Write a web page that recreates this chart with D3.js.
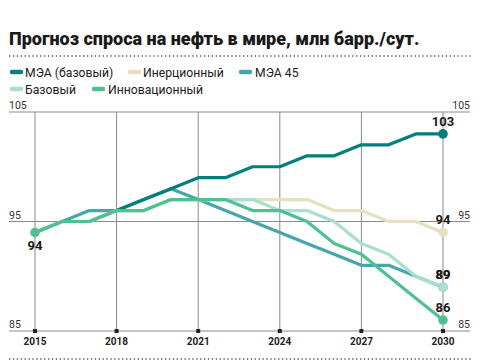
<!DOCTYPE html>
<html><head><meta charset="utf-8">
<script src="https://cdn.jsdelivr.net/npm/d3@7/dist/d3.min.js"></script>
<style>
html,body{margin:0;padding:0;background:#fff;}
svg{display:block;}
text{font-family:Roboto,"Noto Sans",sans-serif;}
</style></head>
<body>
<svg id="chart" width="500" height="362"></svg>
<script>
const title = "Прогноз спроса на нефть в мире, млн барр./сут.";
const years = [2015,2016,2017,2018,2019,2020,2021,2022,2023,2024,2025,2026,2027,2028,2029,2030];
const xTicks = [2015,2018,2021,2024,2027,2030];
const yTicks = [85,95,105];
// drawing order: bottom to top
const seriesNames = ["МЭА 45","МЭА (базовый)","Инерционный","Базовый","Инновационный"];
const seriesColors = ["#45a7ab","#007f7b","#e5e0c0","#a9dfcd","#4fc190"];
const iea45      = [94,95,96,96,97,98,97,96,95,94,93,92,91,91,90,89];
const ieaBase    = [94,95,95,96,97,98,99,99,100,100,101,101,102,102,103,103];
const inertial   = [94,95,95,96,96,97,97,97,97,97,97,96,96,95,95,94];
const base       = [94,95,95,96,96,97,97,97,97,96,96,95,93,92,90,89];
const innovative = [94,95,95,96,96,97,97,97,96,96,95,93,92,90,88,86];
const seriesValues = [iea45, ieaBase, inertial, base, innovative];
const legendOrder = ["МЭА (базовый)","Инерционный","МЭА 45","Базовый","Инновационный"];

const svg = d3.select("#chart");
const x = d3.scaleLinear().domain([2015,2030]).range([35,443]);
const y = d3.scaleLinear().domain([85,105]).range([331,112]);

// title
svg.append("text").attr("x",9).attr("y",45).text(title)
  .attr("font-size",18).attr("font-weight",900).attr("fill","#1a1a1a")
  .attr("font-family","Roboto, sans-serif");
// dotted separators
[56,359].forEach(yy=>{
  svg.append("line").attr("x1",9).attr("x2",471).attr("y1",yy).attr("y2",yy)
    .attr("stroke","#555").attr("stroke-width",1.3).attr("stroke-dasharray","1.3,2.6");
});

// legend
const legendPos = [[10,72],[128,72],[239,72],[10,89],[92,89]];
const legendTextX = [25,143,255,25,108];
legendOrder.forEach((name,i)=>{
  const c = seriesColors[seriesNames.indexOf(name)];
  const [lx,ly] = legendPos[i];
  svg.append("line").attr("x1",lx+2).attr("x2",lx+11).attr("y1",ly).attr("y2",ly)
    .attr("stroke",c).attr("stroke-width",4.5).attr("stroke-linecap","round");
  svg.append("text").attr("x",legendTextX[i]).attr("y",ly+4.5).text(name)
    .attr("font-size",12.2).attr("fill","#1a1a1a");
});

// grid
const g = svg.append("g");
yTicks.forEach(t=>{
  g.append("line").attr("x1",9).attr("x2",470).attr("y1",y(t)).attr("y2",y(t))
    .attr("stroke","#8a8a8a").attr("stroke-width",1);
  g.append("text").attr("x",9).attr("y",y(t)-3).text(t)
    .attr("font-size",10.5).attr("fill","#333");
  g.append("text").attr("x",470).attr("y",y(t)-3).attr("text-anchor","end").text(t)
    .attr("font-size",10.5).attr("fill","#333");
});
xTicks.forEach(t=>{
  g.append("line").attr("x1",x(t)).attr("x2",x(t)).attr("y1",y(105)).attr("y2",y(85))
    .attr("stroke","#8a8a8a").attr("stroke-width",1);
  g.append("rect").attr("x",x(t)-2).attr("y",y(85)-2).attr("width",4).attr("height",4).attr("fill","#222");
  g.append("text").attr("x",x(t)).attr("y",345).attr("text-anchor","middle").text(t)
    .attr("font-size",10).attr("font-weight",700).attr("fill","#222");
});

// lines
const line = d3.line().x((d,i)=>x(years[i])).y(d=>y(d));
seriesValues.forEach((vals,i)=>{
  svg.append("path").attr("d",line(vals)).attr("fill","none")
    .attr("stroke",seriesColors[i]).attr("stroke-width",3.2)
    .attr("stroke-linejoin","round");
});
// end dots and labels
seriesValues.forEach((vals,i)=>{
  const v = vals[vals.length-1];
  svg.append("circle").attr("cx",x(2030)).attr("cy",y(v)).attr("r",4.8).attr("fill",seriesColors[i]);
  svg.append("text").attr("x",x(2030)).attr("y",y(v)-8).attr("text-anchor","middle").text(v)
    .attr("font-size",13).attr("font-weight",700).attr("fill","#1a1a1a");
});
// start dot
svg.append("circle").attr("cx",x(2015)).attr("cy",y(innovative[0])).attr("r",4.8).attr("fill",seriesColors[4]);
svg.append("text").attr("x",x(2015)).attr("y",y(innovative[0])+18).attr("text-anchor","middle").text(innovative[0])
  .attr("font-size",13).attr("font-weight",700).attr("fill","#1a1a1a");
</script>
</body></html>
